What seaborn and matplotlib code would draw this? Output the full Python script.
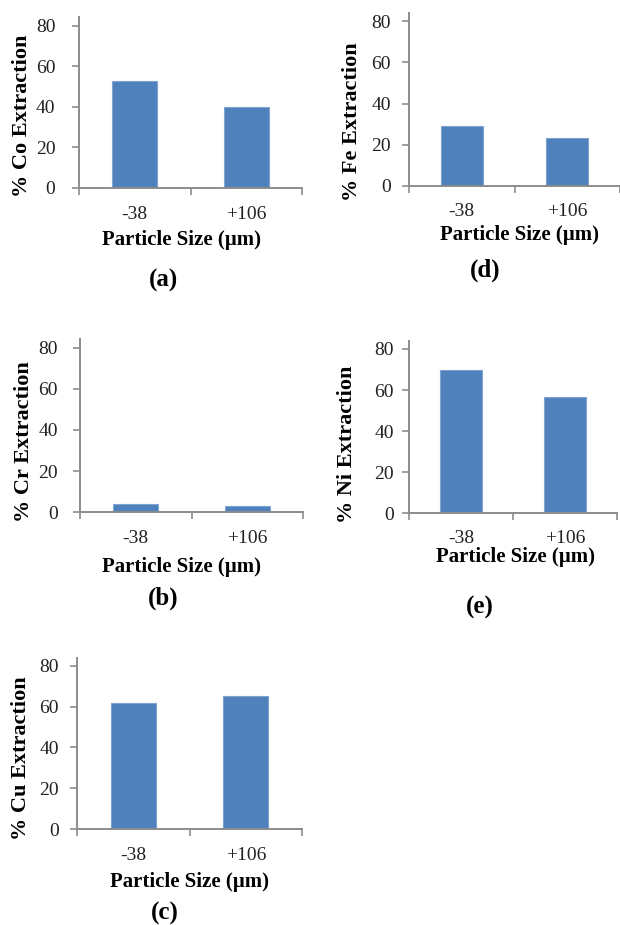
import matplotlib
matplotlib.use("Agg")
import matplotlib.pyplot as plt
import seaborn as sns
import pandas as pd

# ---- data ----
sizes = ["-38", "+106"]
co_ext = [52.8, 40.0]
fe_ext = [29.0, 23.2]
cr_ext = [4.0, 3.1]
ni_ext = [69.6, 56.6]
cu_ext = [61.8, 65.3]
y_ticks = [0, 20, 40, 60, 80]
metals = ["Co", "Fe", "Cr", "Ni", "Cu"]
panel_tags = ["(a)", "(d)", "(b)", "(e)", "(c)"]
x_title = "Particle Size (\u00b5m)"

sns.set_theme(style="white")
plt.rcParams['font.family'] = ['Liberation Serif', 'DejaVu Serif']

W, H = 620, 925
fig = plt.figure(figsize=(W / 100, H / 100), dpi=100)

BAR = "#4F81BD"
AX = "#8C8C8C"

# layout in pixels: left, right, zero_y, px_per_unit, ylabel_x, ylabel_yc, xlabel_x, xlabel_y, tag_x, tag_y, ytick_pad, xtick_pad
layouts = [
    (79, 302, 188.0, 2.03, 22, 116, 182, 240, 163, 280, 12, 13),
    (409, 620, 186.0, 2.06, 352, 122, 519, 235, 485, 270, 8, 12),
    (80, 303, 512.3, 2.06, 24, 442, 181, 567, 163, 598, 11, 13),
    (409, 617, 513.3, 2.054, 347, 444, 515, 557, 480, 607, 6, 12),
    (77, 302, 829.0, 2.04, 21, 758, 190, 882, 165, 913, 8, 13),
]
series = [co_ext, fe_ext, cr_ext, ni_ext, cu_ext]
YMAX = 84

for vals, metal, tag, lay in zip(series, metals, panel_tags, layouts):
    l, r, zy, ppu, ylx, yly, xlx, xly, tx, ty, ytp, xtp = lay
    top = zy - YMAX * ppu
    ax = fig.add_axes([l / W, 1 - zy / H, (r - l) / W, (zy - top) / H])
    df = pd.DataFrame({"size": sizes, "val": vals})
    sns.barplot(data=df, x="size", y="val", color=BAR, width=0.4, ax=ax,
                saturation=1, edgecolor="#7FA3D0", linewidth=0.8)
    ax.set_xlim(-0.5, 1.5)
    ax.set_ylim(0, YMAX)
    ax.set_yticks(y_ticks)
    ax.set_yticklabels([str(t) for t in y_ticks])
    for s in ["top", "right"]:
        ax.spines[s].set_visible(False)
    for s in ["left", "bottom"]:
        ax.spines[s].set_color(AX)
        ax.spines[s].set_linewidth(1.4)
    ax.tick_params(axis="y", which="major", length=5, width=1.2, color=AX,
                   direction="out", left=True, pad=ytp, labelsize=14, labelcolor="#222222")
    ax.tick_params(axis="x", which="major", length=0, pad=xtp, labelsize=14,
                   labelcolor="#222222")
    ax.set_xticks([-0.5, 0.5, 1.5], minor=True)
    ax.tick_params(axis="x", which="minor", length=5, width=1.2, color=AX,
                   direction="out", bottom=True)
    ax.set_xlabel("")
    ax.set_ylabel("")
    ax.set_facecolor("white")
    fig.text(ylx / W, 1 - yly / H, f"% {metal} Extraction", rotation=90,
             ha="center", va="center", fontsize=16, fontweight="bold", color="black")
    fig.text(xlx / W, 1 - xly / H, x_title, ha="center", va="center",
             fontsize=15, fontweight="bold", color="black")
    fig.text(tx / W, 1 - ty / H, tag, ha="center", va="center",
             fontsize=18, fontweight="bold", color="black")

fig.savefig("out.png", dpi=100, facecolor="white")
